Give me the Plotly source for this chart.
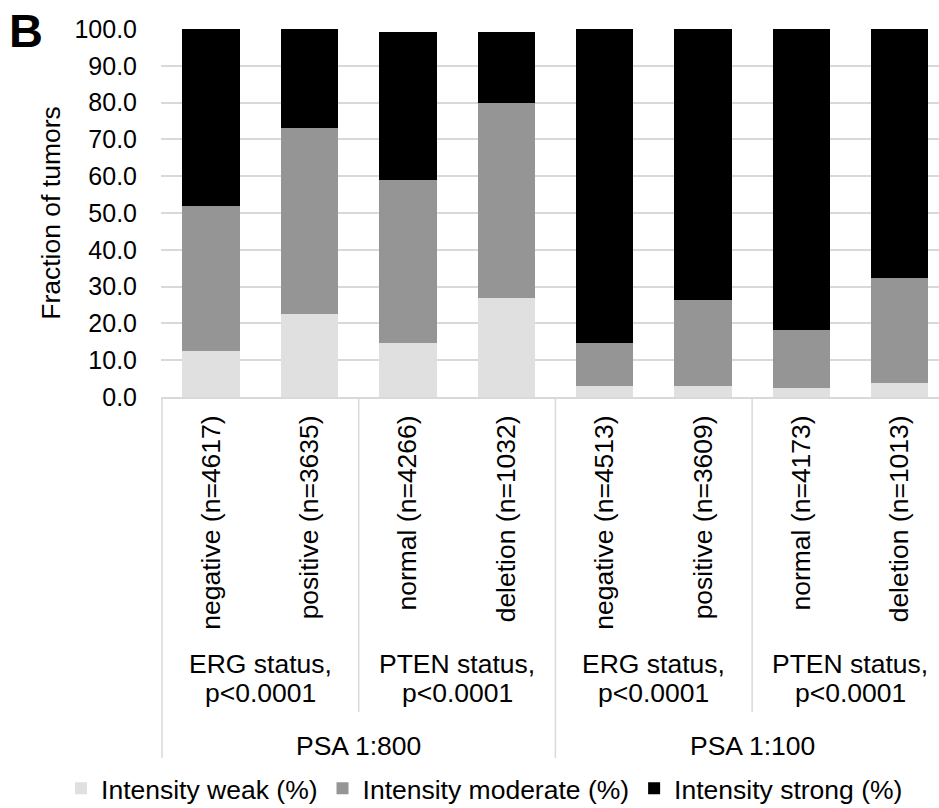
import plotly.graph_objects as go

# ---- data ----
categories = ["negative (n=4617)", "positive (n=3635)", "normal (n=4266)", "deletion (n=1032)",
              "negative (n=4513)", "positive (n=3609)", "normal (n=4173)", "deletion (n=1013)"]
weak = [12.4, 22.6, 14.7, 26.9, 3.1, 3.1, 2.5, 3.8]
moderate = [39.4, 50.5, 44.3, 52.9, 11.6, 23.2, 15.8, 28.5]
strong = [48.2, 26.9, 40.2, 19.4, 85.3, 73.7, 81.7, 67.7]
series_names = ["Intensity weak (%)", "Intensity moderate (%)", "Intensity strong (%)"]
group_labels = ["ERG status,", "PTEN status,", "ERG status,", "PTEN status,"]
group_pvals = ["p&lt;0.0001", "p&lt;0.0001", "p&lt;0.0001", "p&lt;0.0001"]
psa_labels = ["PSA 1:800", "PSA 1:100"]
y_ticks = [0, 10, 20, 30, 40, 50, 60, 70, 80, 90, 100]

FONT = "Liberation Sans, Arial, sans-serif"
FS = 26.5
GRID = "#d9d9d9"
colors = ["#e0e0e0", "#959595", "#000000"]

fig = go.Figure()
for name, vals, col in zip(series_names, [weak, moderate, strong], colors):
    fig.add_trace(go.Bar(x=categories, y=vals, name=name,
                         marker=dict(color=col, line=dict(width=0))))

n = len(categories)
annotations = []
for i, (g, p) in enumerate(zip(group_labels, group_pvals)):
    xc = 2 * i + 0.5
    annotations.append(dict(x=xc, y=-0.726, xref="x", yref="paper", text=g,
                            showarrow=False, yanchor="middle", xanchor="center",
                            font=dict(family=FONT, size=FS, color="black")))
    annotations.append(dict(x=xc, y=-0.805, xref="x", yref="paper", text=p,
                            showarrow=False, yanchor="middle", xanchor="center",
                            font=dict(family=FONT, size=FS, color="black")))
for i, lab in enumerate(psa_labels):
    xc = 4 * i + 1.5
    annotations.append(dict(x=xc, y=-0.949, xref="x", yref="paper", text=lab,
                            showarrow=False, yanchor="middle", xanchor="center",
                            font=dict(family=FONT, size=FS, color="black")))
annotations.append(dict(x=-0.174, y=0.995, xref="paper", yref="paper", text="<b>B</b>",
                        showarrow=False, xanchor="center", yanchor="middle",
                        font=dict(family=FONT, size=47, color="black")))

shapes = []
for k in range(0, n, 2):
    xs = k - 0.5
    long_line = (k % 4 == 0)
    shapes.append(dict(type="line", xref="x", yref="paper", x0=xs, x1=xs,
                       y0=0, y1=-0.981 if long_line else -0.856,
                       line=dict(color=GRID, width=1.5)))

fig.update_layout(
    width=939, height=808,
    margin=dict(l=161, r=0, t=29, b=411, autoexpand=False),
    barmode="stack", bargap=0.416,
    plot_bgcolor="white", paper_bgcolor="white",
    font=dict(family=FONT, size=FS, color="black"),
    showlegend=True,
    legend=dict(orientation="h", xref="paper", yref="paper",
                x=-0.1285, y=-1.0637, xanchor="left", yanchor="middle",
                traceorder="normal", font=dict(family=FONT, size=FS, color="black"),
                bgcolor="rgba(0,0,0,0)"),
    annotations=annotations,
    shapes=shapes,
)
fig.update_xaxes(type="category", range=[-0.51, 7.4], tickangle=-90, ticks="",
                 showline=True, linecolor=GRID, linewidth=1.5, showgrid=False,
                 tickfont=dict(family=FONT, size=FS, color="black"),
                 ticklabelstandoff=6, automargin=False)
fig.update_yaxes(range=[0, 100], tickvals=y_ticks, tickformat=".1f", ticks="",
                 showgrid=True, gridcolor=GRID, gridwidth=1.5, zeroline=False,
                 showline=False, ticklabelstandoff=23,
                 tickfont=dict(family=FONT, size=25, color="black"),
                 title=dict(text="Fraction of tumors", standoff=6,
                            font=dict(family=FONT, size=FS, color="black")),
                 automargin=False)

fig.write_html("out.html")
